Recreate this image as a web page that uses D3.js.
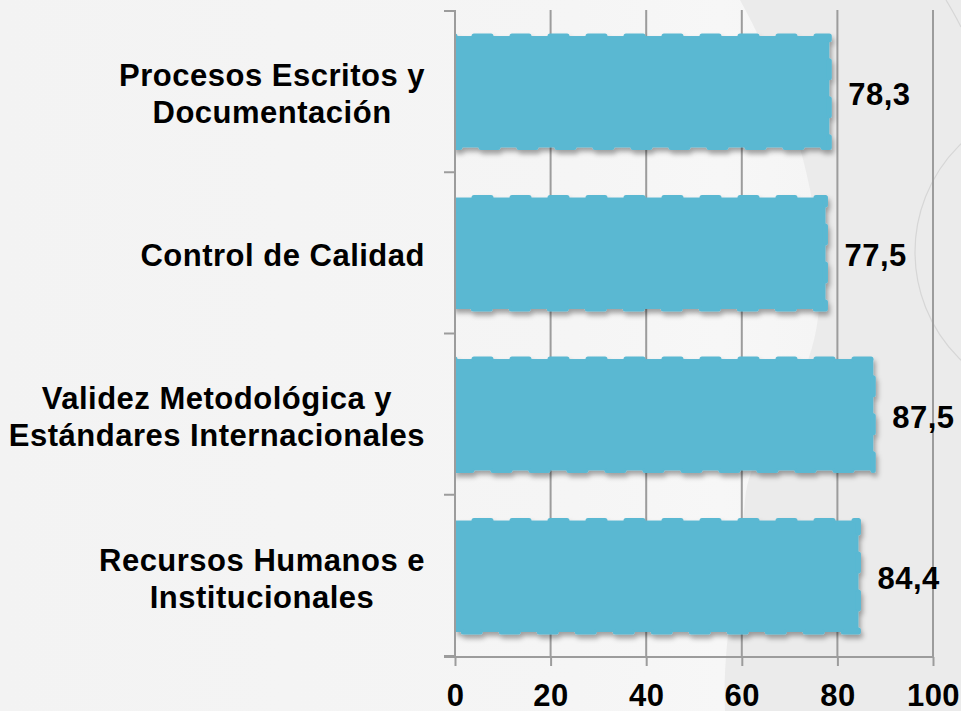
<!DOCTYPE html>
<html>
<head>
<meta charset="utf-8">
<script src="https://cdn.jsdelivr.net/npm/d3@7"></script>
<style>
  html, body { margin: 0; padding: 0; background: #f4f4f4; }
  svg { display: block; }
  text { font-family: "Liberation Sans", Arial, sans-serif; font-weight: bold; fill: #000; letter-spacing: 0.5px; }
</style>
</head>
<body>
<svg id="chart" width="961" height="711"></svg>
<script>
// ---- data ----
const categories = [
  ["Procesos Escritos y", "Documentación"],
  ["Control de Calidad"],
  ["Validez Metodológica y", "Estándares Internacionales"],
  ["Recursos Humanos e", "Institucionales"]
];
const values = [78.3, 77.5, 87.5, 84.4];
const valueLabels = ["78,3", "77,5", "87,5", "84,4"];
const xTicks = [0, 20, 40, 60, 80, 100];

const W = 961, H = 711;
const svg = d3.select("#chart");
const defs = svg.append("defs");

// background
const g1 = defs.append("linearGradient").attr("id", "bgGrad")
  .attr("x1", 0).attr("y1", 0).attr("x2", 1).attr("y2", 0);
g1.append("stop").attr("offset", "0%").attr("stop-color", "#f3f3f3");
g1.append("stop").attr("offset", "60%").attr("stop-color", "#f5f5f5");
g1.append("stop").attr("offset", "75%").attr("stop-color", "#f7f7f7");
g1.append("stop").attr("offset", "100%").attr("stop-color", "#f2f2f2");
svg.append("rect").attr("width", W).attr("height", H).attr("fill", "url(#bgGrad)");

svg.append("path")
  .attr("d", "M740,0 C790,90 830,220 818,318 C808,400 750,440 745,500 C738,580 722,640 725,711 L961,711 L961,0 Z")
  .attr("fill", "#ebebeb");
// decorative thin curves
svg.append("circle").attr("cx", 1065).attr("cy", 252).attr("r", 150)
  .attr("fill", "none").attr("stroke", "#d6d6d6").attr("stroke-width", 1.2);
svg.append("path").attr("d", "M946,0 Q955,15 961,27")
  .attr("fill", "none").attr("stroke", "#d6d6d6").attr("stroke-width", 1.2);

// shadow filter
const f = defs.append("filter").attr("id", "shadow")
  .attr("x", "-10%").attr("y", "-20%").attr("width", "120%").attr("height", "150%");
f.append("feDropShadow").attr("dx", 2).attr("dy", 4).attr("stdDeviation", 2.5)
  .attr("flood-color", "#000").attr("flood-opacity", 0.35);

// scales
const x = d3.scaleLinear().domain([0, 100]).range([455, 933]);
const y = d3.scaleBand().domain(d3.range(categories.length))
  .range([10, 656]).paddingInner(0.31).paddingOuter(0.155);

const axisColor = "#9c9c9c";

// gridlines
svg.append("g").selectAll("line").data(xTicks.slice(1)).join("line")
  .attr("x1", d => x(d)).attr("x2", d => x(d))
  .attr("y1", 10).attr("y2", 657)
  .attr("stroke", axisColor).attr("stroke-width", 2);

// clip so the bars do not spill left of the axis
defs.append("clipPath").attr("id", "plotClip")
  .append("rect").attr("x", x(0)).attr("y", 0).attr("width", W - x(0)).attr("height", H);

// bars
const barColor = "#5ab8d2";
svg.append("g").attr("clip-path", "url(#plotClip)")
  .selectAll("rect").data(values).join("rect")
  .attr("x", x(0))
  .attr("y", (d, i) => y(i) + 1)
  .attr("width", d => x(d) - x(0))
  .attr("height", y.bandwidth())
  .attr("fill", barColor)
  .attr("stroke", barColor)
  .attr("stroke-width", 5)
  .attr("stroke-dasharray", "17 21")
  .attr("stroke-dashoffset", -19)
  .attr("stroke-linecap", "round")
  .attr("stroke-linejoin", "round")
  .attr("filter", "url(#shadow)");

// left axis (on top of bars)
const leftAxis = svg.append("g");
leftAxis.append("line").attr("x1", x(0)).attr("x2", x(0)).attr("y1", 10).attr("y2", 657)
  .attr("stroke", axisColor).attr("stroke-width", 2);
leftAxis.selectAll("line.t").data(d3.range(categories.length + 1)).join("line")
  .attr("class", "t")
  .attr("x1", x(0) - 11).attr("x2", x(0))
  .attr("y1", i => 11 + i * (645 / categories.length))
  .attr("y2", i => 11 + i * (645 / categories.length))
  .attr("stroke", axisColor).attr("stroke-width", 2);

// bottom axis
const bottom = svg.append("g").attr("transform", "translate(0,657)")
  .call(d3.axisBottom(x).tickValues(xTicks).tickSize(9).tickPadding(20).tickFormat(d3.format("d")));
bottom.select(".domain").attr("d", `M${x(0) - 11},0H${x(100)}`).attr("stroke", axisColor).attr("stroke-width", 2);
bottom.selectAll(".tick line").attr("stroke", axisColor).attr("stroke-width", 2);
bottom.selectAll(".tick text")
  .attr("font-family", "Liberation Sans, Arial, sans-serif")
  .attr("font-weight", "bold").attr("font-size", 31).attr("fill", "#000")
  .attr("dy", null).attr("y", 49);

// value labels
svg.append("g").selectAll("text").data(values).join("text")
  .attr("x", d => x(d) + 19)
  .attr("y", (d, i) => y(i) + 1 + y.bandwidth() / 2 + 13)
  .attr("font-size", 31)
  .text((d, i) => valueLabels[i]);

// category labels (block right-aligned at 425, lines centered)
const catG = svg.append("g");
categories.forEach((lines, i) => {
  const cy = y(i) + 1 + y.bandwidth() / 2;
  const t = catG.append("text").attr("font-size", 31).attr("text-anchor", "middle");
  const n = lines.length;
  const tspans = lines.map((ln, j) =>
    t.append("tspan").attr("y", cy + 13 + (j - (n - 1) / 2) * 37).text(ln));
  const widths = tspans.map(s => s.node().getComputedTextLength());
  const maxW = d3.max(widths);
  const cx = 425 - maxW / 2;
  tspans.forEach(s => s.attr("x", cx));
});
</script>
</body>
</html>
